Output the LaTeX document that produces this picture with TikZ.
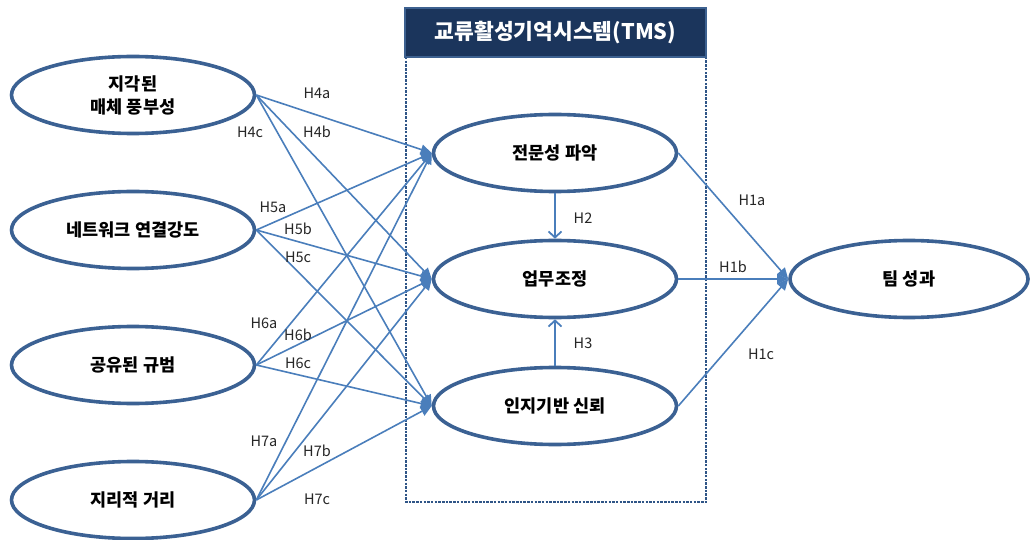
\documentclass[tikz,border=0pt]{standalone}
\usepackage{fontspec}
\setmainfont{Noto Sans CJK KR}
\usetikzlibrary{shapes.geometric,arrows.meta}
\definecolor{ellline}{HTML}{3B6193}
\definecolor{arrline}{HTML}{4A7EBB}
\definecolor{navy}{HTML}{1B355C}
\definecolor{navyborder}{HTML}{3D6190}
\definecolor{dashcol}{HTML}{2F5587}
\definecolor{labcol}{HTML}{262626}
\tikzset{
  var/.style={ellipse, draw=ellline, line width=3.6pt, fill=white, inner sep=0pt,
    minimum width=243pt, minimum height=77pt, align=center,
    font=\fontsize{17.5}{23}\selectfont\bfseries, text=black},
  arr/.style={draw=arrline, line width=1.6pt, -{Triangle[length=11pt,width=10pt]}},
  varr/.style={draw=arrline, line width=1.8pt, -{Straight Barb[length=6pt,width=13pt,line width=1.8pt]}},
  hl/.style={font=\fontsize{14.5}{15}\selectfont, text=labcol, inner sep=0pt},
}
\begin{document}
\begin{tikzpicture}[x=1pt,y=-1pt]
\useasboundingbox (0,0) rectangle (1031,540);
% TMS box
\draw[dashcol, line width=1.3pt, dash pattern=on 2.5pt off 1.2pt] (406,57) rectangle (706,502);
\node[draw=navyborder, line width=2.5pt, fill=navy, minimum width=301pt, minimum height=49pt, inner sep=0pt,
  text=white, font=\fontsize{21.5}{22}\selectfont\bfseries] (tms) at (555.5,32.5) {교류활성기억시스템(TMS)};
% left variables
\node[var] (l1) at (133,95) {지각된\\매체 풍부성};
\node[var] (l2) at (133,230) {네트워크 연결강도};
\node[var] (l3) at (133,365) {공유된 규범};
\node[var] (l4) at (133,500) {지리적 거리};
% middle
\node[var] (m1) at (555,153) {전문성 파악};
\node[var] (m2) at (555,279) {업무조정};
\node[var] (m3) at (555,406) {인지기반 신뢰};
% right
\node[var, minimum width=238pt] (r) at (909,279) {팀 성과};
% arrows left -> middle
\foreach \l in {l1,l2,l3,l4}{
  \foreach \m in {m1,m2,m3}{
    \draw[arr] (\l.east) -- (\m.west);
  }
}
% middle -> right
\foreach \m in {m1,m2,m3}{
  \draw[arr] (\m.east) -- (r.west);
}
% vertical
\draw[varr] (m1.south) -- (m2.north);
\draw[varr] (m3.north) -- (m2.south);
% labels
\node[hl] (h4a) at (317,93) {H4a};
\node[hl] (h4c) at (250,132) {H4c};
\node[hl] (h4b) at (317,132) {H4b};
\node[hl] (h5a) at (273,207) {H5a};
\node[hl] (h5b) at (298,229) {H5b};
\node[hl] (h5c) at (298,257) {H5c};
\node[hl] (h6a) at (264,323) {H6a};
\node[hl] (h6b) at (298,335) {H6b};
\node[hl] (h6c) at (298,363) {H6c};
\node[hl] (h7a) at (264,441) {H7a};
\node[hl] (h7b) at (317,451) {H7b};
\node[hl] (h7c) at (317,499) {H7c};
\node[hl] (h2) at (583,218) {H2};
\node[hl] (h3) at (583,343) {H3};
\node[hl] (h1a) at (752,200) {H1a};
\node[hl] (h1b) at (733,267) {H1b};
\node[hl] (h1c) at (761,354) {H1c};
\end{tikzpicture}
\end{document}
